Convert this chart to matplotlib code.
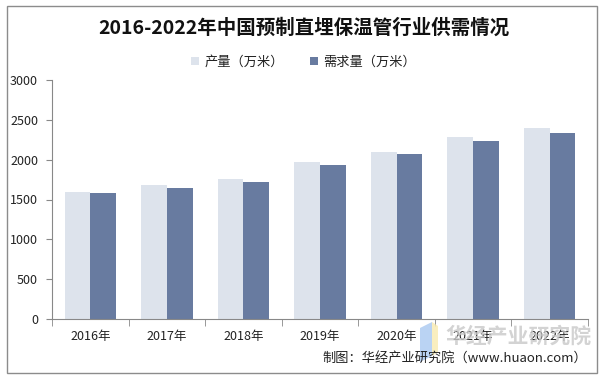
import matplotlib
matplotlib.use("Agg")
import matplotlib.pyplot as plt
import numpy as np
from matplotlib.patches import Rectangle, Polygon

plt.rcParams['font.family'] = ['Noto Sans CJK SC', 'DejaVu Sans']

years = ["2016年", "2017年", "2018年", "2019年", "2020年", "2021年", "2022年"]
production = [1600, 1680, 1760, 1970, 2100, 2280, 2400]
demand = [1580, 1640, 1720, 1930, 2070, 2240, 2340]
series_names = ["产量（万米）", "需求量（万米）"]
yticks = [0, 500, 1000, 1500, 2000, 2500, 3000]

W, H = 607, 381
fig = plt.figure(figsize=(W/100, H/100), dpi=100)
fig.patch.set_facecolor('white')

# outer border
fig.patches.append(Rectangle((7/W, 1-373/H), (597-7)/W, (373-6)/H,
                             transform=fig.transFigure, fill=False,
                             edgecolor='#8c8c8c', linewidth=1.0))

ax = fig.add_axes([52/W, 1-319/H, (588-52)/W, (319-80)/H])
x = np.arange(len(years))
bw = 0.335
light = '#dde3ec'
dark = '#687ba0'
ax.bar(x - bw/2, production, width=bw, color=light, label=series_names[0], zorder=2)
ax.bar(x + bw/2, demand, width=bw, color=dark, label=series_names[1], zorder=2)

ax.set_xlim(-0.5, len(years) - 0.5)
ax.set_ylim(0, 3000)
ax.set_yticks(yticks)
ax.set_yticklabels([str(v) for v in yticks], fontsize=9, color='#222222')
ax.set_xticks(x)
ax.set_xticklabels(years, fontsize=9, color='#222222')
ax.tick_params(axis='x', length=0, pad=8)
ax.tick_params(axis='y', length=4, color='#888888', pad=6)
# boundary ticks on x axis
ax.set_xticks(np.arange(-0.5, len(years), 1), minor=True)
ax.tick_params(axis='x', which='minor', length=5, color='#888888')

for s in ['top', 'right']:
    ax.spines[s].set_visible(False)
for s in ['left', 'bottom']:
    ax.spines[s].set_color('#888888')
    ax.spines[s].set_linewidth(0.8)

fig.text(0.5, 1-28/H, "2016-2022年中国预制直埋保温管行业供需情况",
         ha='center', va='center', fontsize=14, fontweight='bold', color='#111111')

leg = fig.legend(loc='center', bbox_to_anchor=(0.5, 1-62/H), ncol=2, frameon=False,
                 fontsize=9.5, handlelength=0.6, handleheight=0.6,
                 columnspacing=2.0, handletextpad=0.4)
for t in leg.get_texts():
    t.set_color('#222222')

# watermark
fig.patches.append(Polygon([(420/W, 1-328/H), (432/W, 1-322/H), (432/W, 1-356/H), (420/W, 1-362/H)],
                           closed=True, transform=fig.transFigure, facecolor='#a9c8f0', edgecolor='none', alpha=0.8))
fig.patches.append(Polygon([(432/W, 1-322/H), (438/W, 1-326/H), (438/W, 1-352/H), (432/W, 1-356/H)],
                           closed=True, transform=fig.transFigure, facecolor='#f8eab0', edgecolor='none', alpha=0.8))
fig.text(518/W, 1-336/H, "华经产业研究院", ha='center', va='center', fontsize=15,
         fontweight='bold', color='#c8c8c8', alpha=0.8)

fig.text(587/W, 1-358/H, "制图：华经产业研究院（www.huaon.com）", ha='right', va='center',
         fontsize=9.5, color='#222222')

fig.savefig("out.png", dpi=100)
